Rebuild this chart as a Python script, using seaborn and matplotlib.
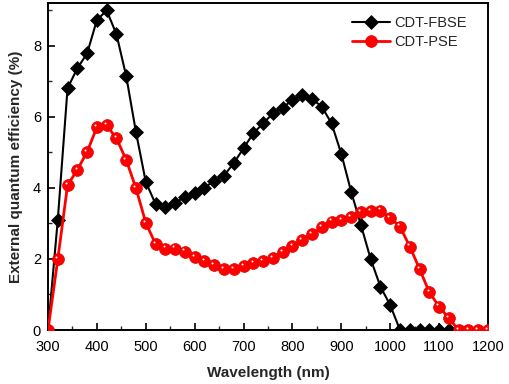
import numpy as np
import pandas as pd
import matplotlib
matplotlib.use("Agg")
import matplotlib.pyplot as plt
import matplotlib.transforms as mtransforms
from matplotlib.ticker import MultipleLocator
import seaborn as sns

# Data
wl_fbse = [300, 320, 340, 360, 380, 400, 420, 440, 460, 480, 500, 520, 540, 560, 580,
           600, 620, 640, 660, 680, 700, 720, 740, 760, 780, 800, 820, 840, 860, 880,
           900, 920, 940, 960, 980, 1000, 1020, 1040, 1060, 1080, 1100, 1120]
eqe_fbse = [0.0, 3.1, 6.81, 7.37, 7.79, 8.73, 9.0, 8.33, 7.15, 5.57, 4.17, 3.55, 3.47, 3.59, 3.74,
            3.85, 4.01, 4.2, 4.35, 4.7, 5.12, 5.54, 5.82, 6.1, 6.26, 6.48, 6.62, 6.51, 6.29, 5.82,
            4.96, 3.9, 2.96, 2.0, 1.22, 0.7, 0.0, 0.0, 0.0, 0.0, 0.0, 0.0]

wl_pse = [300, 320, 340, 360, 380, 400, 420, 440, 460, 480, 500, 520, 540, 560, 580,
          600, 620, 640, 660, 680, 700, 720, 740, 760, 780, 800, 820, 840, 860, 880,
          900, 920, 940, 960, 980, 1000, 1020, 1040, 1060, 1080, 1100, 1120, 1140, 1160,
          1180, 1200]
eqe_pse = [0.0, 1.99, 4.08, 4.51, 5.02, 5.71, 5.76, 5.4, 4.79, 3.99, 3.02, 2.42, 2.29, 2.29, 2.21,
           2.05, 1.94, 1.83, 1.72, 1.72, 1.81, 1.88, 1.93, 2.02, 2.19, 2.37, 2.54, 2.7, 2.89, 3.05,
           3.1, 3.19, 3.32, 3.35, 3.36, 3.16, 2.91, 2.35, 1.72, 1.06, 0.66, 0.33, 0.0, 0.0,
           0.0, 0.0]

labels = ["CDT-FBSE", "CDT-PSE"]
xticks = [300, 400, 500, 600, 700, 800, 900, 1000, 1100, 1200]
yticks = [0, 2, 4, 6, 8]

sns.set_style("ticks")
plt.rcParams['font.family'] = ['Liberation Sans', 'DejaVu Sans']

fig = plt.figure(figsize=(5.1, 3.84), dpi=100)
ax = fig.add_axes([48/510, 1-330/384, 440/510, 327/384])

sns.lineplot(x=wl_fbse, y=eqe_fbse, ax=ax, color='black', marker='D', markersize=7.5,
             markeredgecolor='black', markeredgewidth=0.5, linewidth=1.5, label=labels[0],
             zorder=3)
sns.lineplot(x=wl_pse, y=eqe_pse, ax=ax, color='#ff0000', marker='o', markersize=8.5,
             markeredgecolor='#e00000', markeredgewidth=0.5, linewidth=2.0, label=labels[1],
             zorder=4)
for ln in ax.lines:
    ln.set_clip_on(True)
# highlight on balls
hl = mtransforms.offset_copy(ax.transData, fig=fig, x=-1.3, y=1.6, units='points')
ax.plot(wl_pse, eqe_pse, linestyle='none', marker='o', markersize=1.5,
        markerfacecolor='#fff4f4', markeredgecolor='none', transform=hl, zorder=5,
        clip_on=True)

ax.set_xlim(300, 1200)
ax.set_ylim(0, 9.21)
ax.set_xticks(xticks)
ax.set_yticks(yticks)
ax.xaxis.set_minor_locator(MultipleLocator(50))
ax.yaxis.set_minor_locator(MultipleLocator(1))
ax.tick_params(axis='both', which='major', direction='in', length=5, width=1.2,
               labelsize=10.5, colors='black')
ax.tick_params(axis='x', which='major', pad=7)
ax.tick_params(axis='y', which='major', pad=5)
ax.tick_params(axis='both', which='minor', direction='in', length=3, width=1.0)
ax.tick_params(top=False, right=False, which='both')
for s in ax.spines.values():
    s.set_visible(True)
    s.set_linewidth(1.4)
    s.set_color('black')

ax.set_xlabel("Wavelength (nm)", fontsize=11, fontweight='bold', labelpad=9)
ax.set_ylabel("External quantum efficiency (%)", fontsize=11, fontweight='bold', labelpad=7)

leg = ax.legend(loc='upper right', frameon=False, fontsize=10.5, handlelength=2.6,
                handletextpad=0.3, borderaxespad=0.3, labelspacing=0.3,
                bbox_to_anchor=(0.975, 0.99))
for h in leg.get_lines():
    h.set_clip_on(False)

fig.savefig("out.png", dpi=100)
